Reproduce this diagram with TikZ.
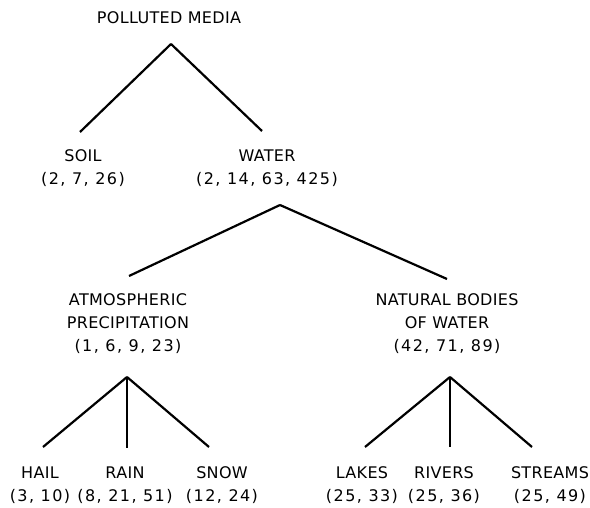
\documentclass[tikz,border=0pt]{standalone}
\usepackage{fontspec}
\setmainfont[LetterSpace=2]{DejaVu Sans}
\newfontfamily\numfont[LetterSpace=9]{DejaVu Sans}
\usetikzlibrary{graphs}

\tikzset{
  lbl/.style={align=center, inner sep=0pt, font=\fontsize{16}{23}\selectfont},
  branch/.style={line width=2.2pt},
}

\begin{document}
\begin{tikzpicture}[x=1pt, y=-1pt]
  \useasboundingbox (0,0) rectangle (590,508);
  \node[lbl] (media) at (169,18) {POLLUTED MEDIA};
    \coordinate (mf) at (171,44);
    \coordinate (sk) at (80,132);
    \coordinate (wk) at (262,131);
  \node[lbl] (soil) at (83,168.5) {SOIL\\\numfont(2, 7, 26)};
  \node[lbl] (water) at (267,168.5) {WATER\\\numfont(2, 14, 63, 425)};
  \graph[use existing nodes, edges={branch}] {
    mf -- {sk, wk};
  };
  \coordinate (wf) at (280,205);
    \coordinate (ak) at (129,276);
    \coordinate (nk) at (447,279);
  \node[lbl] (atmos) at (128,324) {ATMOSPHERIC\\PRECIPITATION\\\numfont(1, 6, 9, 23)};
  \node[lbl] (natural) at (447,324) {NATURAL BODIES\\OF WATER\\\numfont(42, 71, 89)};
  \graph[use existing nodes, edges={branch}] {
    wf -- {ak, nk};
  };
  \coordinate (af) at (127,377);
    \coordinate (hk) at (43,447);
    \coordinate (rk) at (127,448);
    \coordinate (sn) at (209,447);
  \node[lbl] (hail) at (40,485) {HAIL\\\numfont(3, 10)};
  \node[lbl] (rain) at (125,485) {RAIN\\\numfont(8, 21, 51)};
  \node[lbl] (snow) at (222,485) {SNOW\\\numfont(12, 24)};
  \graph[use existing nodes, edges={branch}] {
    af -- {hk, rk, sn};
  };
  \coordinate (nf) at (450,377);
    \coordinate (lk) at (365,447);
    \coordinate (vk) at (450,447);
    \coordinate (tk) at (532,447);
  \node[lbl] (lakes) at (362,485) {LAKES\\\numfont(25, 33)};
  \node[lbl] (rivers) at (444,485) {RIVERS\\\numfont(25, 36)};
  \node[lbl] (streams) at (550,485) {STREAMS\\\numfont(25, 49)};
  \graph[use existing nodes, edges={branch}] {
    nf -- {lk, vk, tk};
  };
\end{tikzpicture}
\end{document}
